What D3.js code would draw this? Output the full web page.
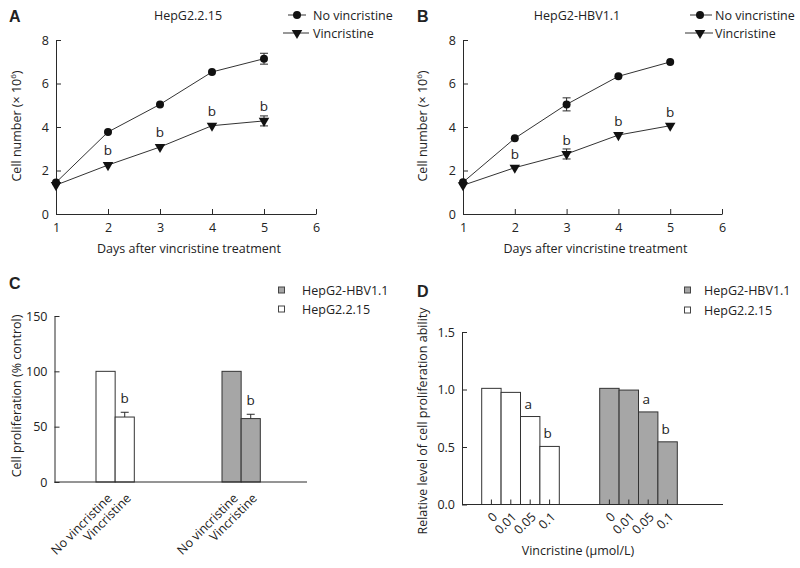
<!DOCTYPE html>
<html><head><meta charset="utf-8">
<script src="https://cdn.jsdelivr.net/npm/d3@7"></script>
<style>
body{margin:0;background:#fff}
svg{display:block}
text{font-family:"Open Sans",sans-serif;fill:#222}
</style></head><body>
<svg id="c" width="800" height="568"></svg>
<script>
// ---------- data ----------
const days = [1, 2, 3, 4, 5];
const dayTicks = [1, 2, 3, 4, 5, 6];
const lineYTicks = [0, 2, 4, 6, 8];
const lineSeries = ["No vincristine", "Vincristine"];

const aTitle = "HepG2.2.15";
const aNoVin = [1.45, 3.77, 5.04, 6.53, 7.14];
const aNoVinErr = [0, 0, 0, 0, 0.25];
const aVin = [1.33, 2.25, 3.08, 4.06, 4.28];
const aVinErr = [0, 0, 0, 0, 0.23];
const aSig = ["", "b", "b", "b", "b"];

const bTitle = "HepG2-HBV1.1";
const bNoVin = [1.46, 3.48, 5.04, 6.33, 6.99];
const bNoVinErr = [0, 0, 0.3, 0, 0];
const bVin = [1.32, 2.13, 2.76, 3.63, 4.06];
const bVinErr = [0, 0, 0.23, 0, 0];
const bSig = ["", "b", "b", "b", "b"];

const cellLines = ["HepG2.2.15", "HepG2-HBV1.1"];
const legendOrder = ["HepG2-HBV1.1", "HepG2.2.15"];
const cConditions = ["No vincristine", "Vincristine"];
const c2215 = [100, 58.7];
const c2215Err = [0, 4.3];
const cHBV = [100, 57.3];
const cHBVErr = [0, 3.9];
const cSig = ["", "b"];
const cTicks = [0, 50, 100, 150];

const dDoses = ["0", "0.01", "0.05", "0.1"];
const d2215 = [1.01, 0.975, 0.765, 0.505];
const dHBV = [1.01, 0.995, 0.805, 0.545];
const dSig = ["", "", "a", "b"];
const dTicks = [0, 0.5, 1.0, 1.5];

// ---------- style ----------
const INK = "#2a2a2a";
const GRAY = "#a6a6a6";
const FS = 12.5;
const fill = {"HepG2.2.15": "#ffffff", "HepG2-HBV1.1": GRAY};

const svg = d3.select("#c");

function styleAxis(g) {
  g.selectAll("path,line").attr("stroke", INK).attr("stroke-width", 1);
  g.selectAll("text").style("font-family", '"Open Sans",sans-serif')
    .style("font-size", FS + "px").attr("fill", "#222");
}
function panelLetter(t, x, y) {
  svg.append("text").attr("x", x).attr("y", y).text(t)
    .style("font-family", '"Liberation Sans",Arial,sans-serif')
    .style("font-weight", "bold").style("font-size", "16px").attr("fill", "#111");
}
function yTitle(x, y, build) {
  const t = svg.append("text").attr("transform", `translate(${x},${y}) rotate(-90)`)
    .attr("text-anchor", "middle").attr("dy", "0.35em").style("font-size", FS + "px");
  build(t);
}

// ---------- line panels ----------
function linePanel(o) {
  const x = d3.scaleLinear().domain([1, 6]).range([o.left, o.right]);
  const y = d3.scaleLinear().domain([0, 8]).range([o.bottom, o.top]);
  const g = svg.append("g");

  g.append("g").attr("transform", `translate(0,${o.bottom})`)
    .call(d3.axisBottom(x).tickValues(dayTicks).tickFormat(d3.format("d"))
      .tickSizeInner(-5).tickSizeOuter(0).tickPadding(9))
    .call(styleAxis);
  g.append("g").attr("transform", `translate(${o.left},0)`)
    .call(d3.axisLeft(y).tickValues(lineYTicks).tickSizeInner(-5).tickSizeOuter(0).tickPadding(7))
    .call(styleAxis);

  const series = [
    {name: lineSeries[0], v: o.noVin, e: o.noVinErr, sym: "circle"},
    {name: lineSeries[1], v: o.vin, e: o.vinErr, sym: "tri"}
  ];
  const line = d3.line().x((d, i) => x(days[i])).y(d => y(d));
  series.forEach(s => {
    g.append("path").attr("d", line(s.v)).attr("fill", "none")
      .attr("stroke", "#333").attr("stroke-width", 1);
    s.v.forEach((v, i) => {
      if (s.e[i] > 0) {
        const cx = x(days[i]);
        const y1 = y(v + s.e[i]), y2 = y(v - s.e[i]);
        g.append("line").attr("x1", cx).attr("x2", cx).attr("y1", y1).attr("y2", y2).attr("stroke", INK);
        [y1, y2].forEach(yy => g.append("line").attr("x1", cx - 4).attr("x2", cx + 4)
          .attr("y1", yy).attr("y2", yy).attr("stroke", INK));
      }
    });
    s.v.forEach((v, i) => drawMarker(g, s.sym, x(days[i]), y(v)));
  });
  o.sig.forEach((t, i) => {
    if (!t) return;
    g.append("text").attr("x", x(days[i])).attr("y", y(o.vin[i]) - o.sigOff)
      .attr("text-anchor", "middle").style("font-size", (FS + 1) + "px").text(t);
  });

  // title
  svg.append("text").attr("x", o.titleX).attr("y", 20).attr("text-anchor", "middle")
    .style("font-size", FS + "px").text(o.title);
  // legend
  const L = o.legend;
  [0, 1].forEach(k => {
    const yy = L.y[k];
    svg.append("line").attr("x1", L.l1[k]).attr("x2", L.l2[k]).attr("y1", yy).attr("y2", yy)
      .attr("stroke", "#333");
    drawMarker(svg, k === 0 ? "circle" : "tri", L.mx, yy);
    svg.append("text").attr("x", L.tx).attr("y", yy).attr("dy", "0.36em")
      .style("font-size", FS + "px").text(lineSeries[k]);
  });
  // axis titles
  svg.append("text").attr("x", (o.left + o.right) / 2 + 3).attr("y", 253)
    .attr("text-anchor", "middle").style("font-size", FS + "px").text("Days after vincristine treatment");
  yTitle(o.ytX, 126, t => {
    t.append("tspan").text("Cell number (\u00d7 10");
    t.append("tspan").attr("baseline-shift", "super").style("font-size", "8px").text("6");
    t.append("tspan").text(")");
  });
}
function drawMarker(g, sym, cx, cy) {
  if (sym === "circle") {
    g.append("circle").attr("cx", cx).attr("cy", cy).attr("r", 4).attr("fill", "#111");
  } else {
    g.append("path").attr("d", d3.symbol().type(d3.symbolTriangle).size(48)())
      .attr("transform", `translate(${cx},${cy}) rotate(180)`).attr("fill", "#111");
  }
}

linePanel({left: 56, right: 316, top: 40, bottom: 214, noVin: aNoVin, noVinErr: aNoVinErr,
  vin: aVin, vinErr: aVinErr, sig: aSig, sigOff: 10, title: aTitle, titleX: 188, ytX: 17,
  legend: {y: [15, 33], l1: [288, 283], l2: [306, 309], mx: 297, tx: 313}});
linePanel({left: 463, right: 722, top: 40, bottom: 214, noVin: bNoVin, noVinErr: bNoVinErr,
  vin: bVin, vinErr: bVinErr, sig: bSig, sigOff: 9, title: bTitle, titleX: 577, ytX: 423,
  legend: {y: [15, 33], l1: [690, 685], l2: [712, 713], mx: 700, tx: 715}});
panelLetter("A", 9, 22);
panelLetter("B", 417, 22);

// ---------- bar legend ----------
function barLegend(sx, tx, ys) {
  legendOrder.forEach((name, k) => {
    svg.append("rect").attr("x", sx - 3).attr("y", ys[k] - 3).attr("width", 6).attr("height", 6)
      .attr("fill", fill[name]).attr("stroke", "#444").attr("stroke-width", 1);
    svg.append("text").attr("x", tx).attr("y", ys[k]).attr("dy", "0.36em")
      .style("font-size", FS + "px").text(name);
  });
}

// ---------- panel C ----------
(function () {
  const left = 54.5, right = 307, top = 316, bottom = 482;
  const y = d3.scaleLinear().domain([0, 150]).range([bottom, top]);
  const gx = d3.scaleBand().domain(cellLines).range([96, 260.3]).paddingInner(0.696);
  const ix = d3.scaleBand().domain(cConditions).range([0, gx.bandwidth()]);
  const data = {"HepG2.2.15": [c2215, c2215Err], "HepG2-HBV1.1": [cHBV, cHBVErr]};
  const g = svg.append("g");
  cellLines.forEach(cl => {
    const [vals, errs] = data[cl];
    cConditions.forEach((c, i) => {
      const bx = gx(cl) + ix(c);
      g.append("rect").attr("x", bx).attr("y", y(vals[i])).attr("width", ix.bandwidth())
        .attr("height", y(0) - y(vals[i])).attr("fill", fill[cl]).attr("stroke", "#333");
      const cx = bx + ix.bandwidth() / 2;
      if (errs[i] > 0) {
        const yt = y(vals[i] + errs[i]);
        g.append("line").attr("x1", cx).attr("x2", cx).attr("y1", y(vals[i])).attr("y2", yt).attr("stroke", INK);
        g.append("line").attr("x1", cx - 4).attr("x2", cx + 4).attr("y1", yt).attr("y2", yt).attr("stroke", INK);
      }
      if (cSig[i]) g.append("text").attr("x", cx).attr("y", y(vals[i] + errs[i]) - 9)
        .attr("text-anchor", "middle").style("font-size", (FS + 1) + "px").text(cSig[i]);
      svg.append("text").attr("transform", `translate(${cx + 4},${bottom + 14}) rotate(-45)`)
        .attr("text-anchor", "end").attr("dy", "0.35em").style("font-size", FS + "px").text(c);
    });
  });
  g.append("g").attr("transform", `translate(${left},0)`)
    .call(d3.axisLeft(y).tickValues(cTicks).tickSizeInner(-5).tickSizeOuter(0).tickPadding(7))
    .call(styleAxis);
  g.append("line").attr("x1", left).attr("x2", right).attr("y1", bottom).attr("y2", bottom).attr("stroke", INK);
  yTitle(17, 396, t => t.text("Cell proliferation (% control)"));
  barLegend(281.5, 302, [290, 309]);
  panelLetter("C", 9, 289);
})();

// ---------- panel D ----------
(function () {
  const left = 462, right = 723, top = 332, bottom = 504.5;
  const y = d3.scaleLinear().domain([0, 1.5]).range([bottom, top]);
  const gx = d3.scaleBand().domain(cellLines).range([481.7, 677.3]).paddingInner(0.3424);
  const ix = d3.scaleBand().domain(dDoses).range([0, gx.bandwidth()]);
  const data = {"HepG2.2.15": d2215, "HepG2-HBV1.1": dHBV};
  const g = svg.append("g");
  cellLines.forEach(cl => {
    const vals = data[cl];
    dDoses.forEach((d, i) => {
      const bx = gx(cl) + ix(d);
      const cx = bx + ix.bandwidth() / 2;
      g.append("rect").attr("x", bx).attr("y", y(vals[i])).attr("width", ix.bandwidth())
        .attr("height", y(0) - y(vals[i])).attr("fill", fill[cl]).attr("stroke", "#333");
      g.append("line").attr("x1", cx).attr("x2", cx).attr("y1", bottom).attr("y2", bottom - 5).attr("stroke", INK);
      if (dSig[i]) g.append("text").attr("x", cx - 2).attr("y", y(vals[i]) - 8)
        .attr("text-anchor", "middle").style("font-size", (FS + 1) + "px").text(dSig[i]);
      svg.append("text").attr("transform", `translate(${cx + 3.5},${bottom + 10}) rotate(-45)`)
        .attr("text-anchor", "end").attr("dy", "0.35em").style("font-size", FS + "px").text(d);
    });
  });
  g.append("g").attr("transform", `translate(${left},0)`)
    .call(d3.axisLeft(y).tickValues(dTicks).tickFormat(d3.format(".1f"))
      .tickSizeInner(-5).tickSizeOuter(0).tickPadding(7))
    .call(styleAxis);
  g.append("line").attr("x1", left).attr("x2", right).attr("y1", bottom).attr("y2", bottom).attr("stroke", INK);
  yTitle(423, 421, t => t.text("Relative level of cell proliferation ability"));
  svg.append("text").attr("x", 578).attr("y", 555).attr("text-anchor", "middle")
    .style("font-size", FS + "px").text("Vincristine (\u03bcmol/L)");
  barLegend(687.5, 704, [290, 310]);
  panelLetter("D", 417, 297);
})();
</script></body></html>
